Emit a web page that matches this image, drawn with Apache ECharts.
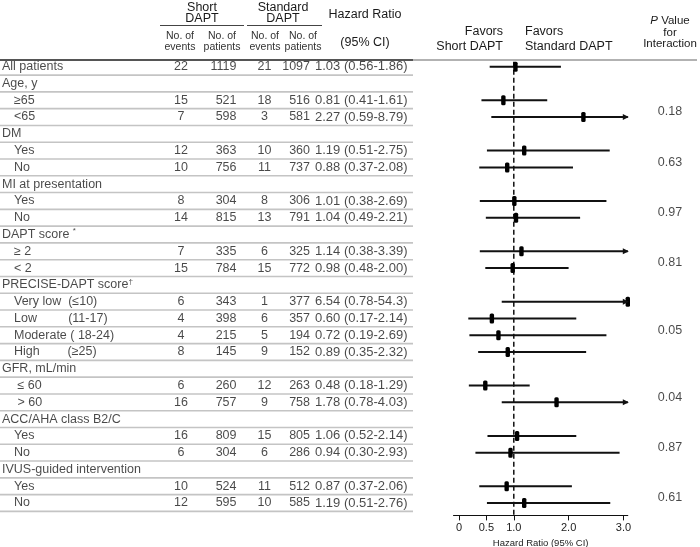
<!DOCTYPE html>
<html><head><meta charset="utf-8">
<script src="https://cdn.jsdelivr.net/npm/echarts@6/dist/echarts.min.js"></script>
<style>html,body{margin:0;padding:0;background:#fff}#c{width:700px;height:547px}</style>
</head><body><div id="c"></div>
<script>
// ---------------- data ----------------
const rowLabels = ['All patients','Age, y','≥65','<65','DM','Yes','No','MI at presentation','Yes','No',
  'DAPT score ','≥ 2','< 2','PRECISE-DAPT score','Very low  (≤10)','Low         (11-17)','Moderate ( 18-24)','High        (≥25)',
  'GFR, mL/min',' ≤ 60',' > 60','ACC/AHA class B2/C','Yes','No','IVUS-guided intervention','Yes','No'];
const subRow = [0,0,1,1,0,1,1,0,1,1,0,1,1,0,1,1,1,1,0,1,1,0,1,1,0,1,1];
const rowMarks = {10:'*', 13:'†'};
const shortEvents   = [22,null,15,7,null,12,10,null,8,14,null,7,15,null,6,4,4,8,null,6,16,null,16,6,null,10,12];
const shortPatients = [1119,null,521,598,null,363,756,null,304,815,null,335,784,null,343,398,215,145,null,260,757,null,809,304,null,524,595];
const stdEvents     = [21,null,18,3,null,10,11,null,8,13,null,6,15,null,1,6,5,9,null,12,9,null,15,6,null,11,10];
const stdPatients   = [1097,null,516,581,null,360,737,null,306,791,null,325,772,null,377,357,194,152,null,263,758,null,805,286,null,512,585];
const hr  = [1.03,null,0.81,2.27,null,1.19,0.88,null,1.01,1.04,null,1.14,0.98,null,6.54,0.60,0.72,0.89,null,0.48,1.78,null,1.06,0.94,null,0.87,1.19];
const ciLo= [0.56,null,0.41,0.59,null,0.51,0.37,null,0.38,0.49,null,0.38,0.48,null,0.78,0.17,0.19,0.35,null,0.18,0.78,null,0.52,0.30,null,0.37,0.51];
const ciHi= [1.86,null,1.61,8.79,null,2.75,2.08,null,2.69,2.21,null,3.39,2.00,null,54.3,2.14,2.69,2.32,null,1.29,4.03,null,2.14,2.93,null,2.06,2.76];
const groupRows = [1,4,7,10,13,18,21,24];
const pValues = ['0.18','0.63','0.97','0.81','0.05','0.04','0.87','0.61'];
const tickValues = [0,0.5,1,2,3];
const tickLabels = ['0','0.5','1.0','2.0','3.0'];

// ---------------- layout ----------------
const FONT = "'Liberation Sans', Arial, sans-serif";
const TXT = '#1a1a1a';
const TOP = 58.3, H = 453.1, ROWH = H / 27, AXGAP = 4;
const AX_MIN = -0.1, AX_MAX = 3.08;
const chart = echarts.init(document.getElementById('c'));

function fmt2(v){ return v >= 10 ? v.toFixed(1) : v.toFixed(2); }

function textCol(xf, vals, align, fmt, extra) {
  const data = [];
  vals.forEach((v, i) => { if (v !== null && v !== undefined) data.push([typeof xf === 'function' ? xf(i) : xf, i, fmt ? fmt(v, i) : String(v)]); });
  const s = {
    type:'scatter', xAxisIndex:0, yAxisIndex:0, symbolSize:1, itemStyle:{color:'rgba(0,0,0,0)'},
    silent:true, animation:false, data,
    label:{show:true, position:'inside', align, verticalAlign:'middle', color:TXT, fontSize:12.5, fontFamily:FONT,
      formatter:p => p.value[2],
      rich:{s:{fontSize:8, fontFamily:FONT, color:TXT, padding:[0,0,7,0]}}}
  };
  if (extra) Object.assign(s.label, extra);
  return s;
}

// P value positions: middle of each group's sub-rows
const pData = groupRows.map((g, k) => {
  let a = g + 1, b = a;
  while (b + 1 < rowLabels.length && subRow[b + 1]) b++;
  return [670, (a + b) / 2 + 0.2, pValues[k]];
});

const forestData = [];
hr.forEach((v, i) => { if (v !== null) forestData.push([i, v, ciLo[i], ciHi[i]]); });

function T(x, y, text, o) {
  o = o || {};
  return {type:'text', x, y, silent:true, style:Object.assign({
    text, fill:TXT, fontSize:12.5, fontFamily:FONT,
    align:o.align || 'center', textAlign:o.align || 'center', verticalAlign:'middle', textVerticalAlign:'middle'
  }, o.style || {})};
}
function L(x1, y1, x2, y2, color, w) {
  return {type:'line', silent:true, shape:{x1, y1, x2, y2}, style:{stroke:color, lineWidth:w}};
}
const small = {style:{fontSize:10.5, fill:'#333'}};

const graphics = [
  T(202, 7.5, 'Short'), T(202, 19, 'DAPT'),
  T(283, 7.5, 'Standard'), T(283, 19, 'DAPT'),
  L(160, 25.5, 244, 25.5, '#444', 1), L(247, 25.5, 322, 25.5, '#444', 1),
  T(180, 36, 'No. of', small), T(180, 47, 'events', small),
  T(222, 36, 'No. of', small), T(222, 47, 'patients', small),
  T(265, 36, 'No. of', small), T(265, 47, 'events', small),
  T(303, 36, 'No. of', small), T(303, 47, 'patients', small),
  T(365, 15, 'Hazard Ratio'), T(365, 43, '(95% CI)'),
  T(503, 32, 'Favors', {align:'right'}), T(503, 47, 'Short DAPT', {align:'right'}),
  T(525, 32, 'Favors', {align:'left'}), T(525, 47, 'Standard DAPT', {align:'left'}),
  T(670, 21, '{i|P} Value', {style:{fontSize:11.5, rich:{i:{fontStyle:'italic', fontSize:11.5, fontFamily:FONT, fill:TXT}}}}),
  T(670, 32.5, 'for', {style:{fontSize:11.5}}),
  T(670, 44, 'Interaction', {style:{fontSize:11.5}})
];

const option = {
  animation:false,
  backgroundColor:'#fff',
  graphic:graphics,
  grid:[
    {left:0, right:0, top:TOP, height:H, outerBoundsMode:'none', containLabel:false},
    {left:453.5, width:174.3, top:TOP, height:H + AXGAP, outerBoundsMode:'none', containLabel:false}
  ],
  xAxis:[
    {gridIndex:0, type:'value', min:0, max:700, show:false},
    {gridIndex:1, type:'value', min:AX_MIN, max:AX_MAX, position:'bottom',
     axisLine:{show:true, onZero:false, lineStyle:{color:'#111', width:1}},
     axisTick:{show:true, customValues:tickValues, length:5, lineStyle:{color:'#111'}},
     axisLabel:{customValues:tickValues, margin:7, fontSize:11, color:'#222', fontFamily:FONT,
       formatter:v => { const k = tickValues.findIndex(t => Math.abs(t - v) < 1e-9); return k >= 0 ? tickLabels[k] : ''; }},
     splitLine:{show:false},
     name:'Hazard Ratio (95% CI)', nameLocation:'middle', nameGap:16.5,
     nameTextStyle:{fontSize:9.5, color:'#222', fontFamily:FONT}}
  ],
  yAxis:[
    {gridIndex:0, type:'value', min:-0.5, max:26.5, inverse:true, show:false},
    {gridIndex:1, type:'value', min:-0.5, max:26.5 + AXGAP / ROWH, inverse:true, show:false}
  ],
  series:[
    // row separators
    {type:'custom', xAxisIndex:0, yAxisIndex:0, silent:true, encode:{x:0, y:1},
     data:rowLabels.map((_, i) => [0, i]),
     renderItem:(params, api) => {
       const r = api.value(1);
       const a = api.coord([0, r + 0.5]), b = api.coord([413, r + 0.5]);
       return {type:'line', shape:{x1:a[0], y1:a[1], x2:b[0], y2:b[1]}, style:{stroke:'#c4c4c4', lineWidth:1.6}};
     }},
    // header rule
    {type:'custom', xAxisIndex:0, yAxisIndex:0, silent:true, encode:{x:0, y:1},
     data:[[0, -0.4]],
     renderItem:(params, api) => {
       const a = api.coord([0, -0.4]), b = api.coord([413, -0.4]), c = api.coord([697, -0.4]);
       return {type:'group', children:[
         {type:'line', shape:{x1:a[0], y1:a[1], x2:b[0], y2:b[1]}, style:{stroke:'#555', lineWidth:2}},
         {type:'line', shape:{x1:b[0], y1:b[1], x2:c[0], y2:c[1]}, style:{stroke:'#999', lineWidth:1.5}}
       ]};
     }},
    textCol(i => subRow[i] ? 14 : 2, rowLabels, 'left', (v, i) => rowMarks[i] ? v + '{s|' + rowMarks[i] + '}' : v),
    textCol(181, shortEvents, 'center'),
    textCol(236.5, shortPatients, 'right'),
    textCol(264.5, stdEvents, 'center'),
    textCol(310, stdPatients, 'right'),
    textCol(315, hr, 'left', (v, i) => v.toFixed(2) + ' (' + fmt2(ciLo[i]) + '-' + fmt2(ciHi[i]) + ')', {fontSize:13}),
    Object.assign(textCol(0, [], 'center'), {data:pData}),
    // reference dashed line at HR = 1
    {type:'custom', xAxisIndex:1, yAxisIndex:1, silent:true, encode:{x:0, y:1},
     data:[[1, 0]],
     renderItem:(params, api) => {
       const a = api.coord([api.value(0), -0.3]), b = api.coord([api.value(0), 26.5 + AXGAP / ROWH]);
       return {type:'line', shape:{x1:a[0], y1:a[1], x2:b[0], y2:b[1]}, style:{stroke:'#111', lineWidth:1.5, lineDash:[5,3]}};
     }},
    // forest marks
    {type:'custom', xAxisIndex:1, yAxisIndex:1, silent:true, encode:{x:[1,2,3], y:0}, z:5,
     data:forestData,
     renderItem:(params, api) => {
       const row = api.value(0), est = api.value(1), lo = api.value(2), hi = api.value(3);
       const hiC = Math.min(hi, AX_MAX), estC = Math.min(est, AX_MAX);
       const p1 = api.coord([lo, row]), p2 = api.coord([hiC, row]), pc = api.coord([estC, row]);
       const ch = [
         {type:'line', shape:{x1:p1[0], y1:p1[1], x2:p2[0], y2:p2[1]}, style:{stroke:'#111', lineWidth:2}},
         {type:'rect', shape:{x:pc[0] - 2.2, y:pc[1] - 5, width:4.4, height:10, r:1.5}, style:{fill:'#000'}}
       ];
       if (hi > AX_MAX) {
         ch.push({type:'polygon', shape:{points:[[p2[0] + 1, p2[1]], [p2[0] - 5, p2[1] - 3], [p2[0] - 5, p2[1] + 3]]}, style:{fill:'#111'}});
       }
       return {type:'group', children:ch};
     }}
  ]
};
chart.setOption(option);
</script>
</body></html>
